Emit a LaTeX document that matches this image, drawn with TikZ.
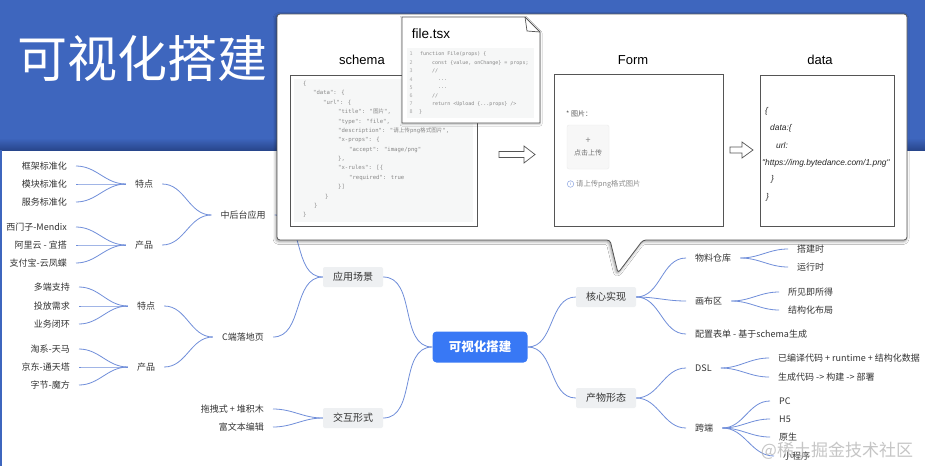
\documentclass[tikz,border=0pt]{standalone}
\usepackage{fontspec}
\setmainfont{Noto Sans CJK SC}
\newfontfamily\latf{Liberation Sans}
\newfontfamily\monof{DejaVu Sans Mono}
\newfontfamily\cjkf{Noto Sans CJK SC}
\newcommand\zh[1]{{\cjkf #1}}
\usetikzlibrary{shadows.blur}
\definecolor{band}{RGB}{62,102,190}
\definecolor{bandd}{RGB}{40,70,140}
\definecolor{lnk}{RGB}{112,142,218}
\definecolor{txt}{RGB}{51,51,51}
\definecolor{rootc}{RGB}{56,120,245}
\definecolor{greyb}{RGB}{238,240,242}
\definecolor{codebg}{RGB}{246,247,247}
\definecolor{codec}{RGB}{135,135,135}
\definecolor{frm}{RGB}{85,85,85}
\tikzset{
  lk/.style={draw=lnk, line width=0.8pt},
  lf/.style={font=\fontsize{9}{11}\selectfont, text=txt, inner xsep=9pt, inner ysep=1pt},
  gb/.style={fill=greyb, rounded corners=2pt, minimum width=60pt, minimum height=20pt, inner sep=0pt, font=\fontsize{10}{12}\selectfont, text=txt},
  rootbox/.style={fill=rootc, rounded corners=4pt, minimum width=95pt, minimum height=31pt, inner sep=0pt, font=\fontsize{12.5}{14}\selectfont\bfseries, text=white},
  panel/.style={draw=frm, line width=0.7pt, fill=white},
  plabel/.style={font=\latf\fontsize{13}{15}\selectfont, text=black, inner sep=0pt},
  sc/.style={font=\monof\fontsize{5.6}{6}\selectfont, text=codec, anchor=west, inner sep=0pt},
  fc/.style={font=\monof\fontsize{5}{6}\selectfont, text=codec, anchor=west, inner sep=0pt},
  fn/.style={font=\monof\fontsize{5}{6}\selectfont, text=codec!70, inner sep=0pt},
  dt/.style={font=\latf\itshape\fontsize{8.4}{10}\selectfont, text=black!85, anchor=west, inner sep=0pt},
  barrow/.style={draw=frm, line width=0.7pt, fill=white, line join=miter},
}
\begin{document}
\begin{tikzpicture}[x=1pt,y=-1pt]
\useasboundingbox (0,0) rectangle (925,466);
\fill[white] (0,0) rectangle (925,466);
% header band
\fill[band] (0,0) rectangle (925,138);
\shade[top color=band, bottom color=bandd] (0,138) rectangle (925,150);
\fill[band] (0,150) rectangle (2,466);
\node[font=\fontsize{50}{52}\selectfont, text=white, inner sep=0pt] (title) at (142,59) {可视化搭建};

% ---------- mind map ----------
\node[rootbox] (root) at (480,347) {可视化搭建};
\node[gb] (yy) at (353,277) {应用场景};
\node[gb] (jh) at (353,418) {交互形式};
\node[gb] (hx) at (606,297) {核心实现};
\node[gb] (cw) at (606,398) {产物形态};

\node[lf] (zh) at (243,215) {中后台应用};
\node[lf] (cd) at (243,337) {C端落地页};
\node[lf] (t1) at (144,184) {特点};
\node[lf] (p1) at (144,245) {产品};
\node[lf] (t2) at (146,306) {特点};
\node[lf] (p2) at (146,367) {产品};

\node[lf, anchor=east] (a1) at (76,166) {框架标准化};
\node[lf, anchor=east] (a2) at (76,184) {模块标准化};
\node[lf, anchor=east] (a3) at (76,202) {服务标准化};
\node[lf, anchor=east] (b1) at (76,227) {西门子-Mendix};
\node[lf, anchor=east] (b2) at (76,245) {阿里云 - 宜搭};
\node[lf, anchor=east] (b3) at (76,263) {支付宝-云凤蝶};
\node[lf, anchor=east] (c1) at (79,287) {多端支持};
\node[lf, anchor=east] (c2) at (79,306) {投放需求};
\node[lf, anchor=east] (c3) at (79,324) {业务闭环};
\node[lf, anchor=east] (d1) at (79,349) {淘系-天马};
\node[lf, anchor=east] (d2) at (79,367) {京东-通天塔};
\node[lf, anchor=east] (d3) at (79,385) {字节-魔方};
\node[lf, anchor=east] (e1) at (273,409) {拖拽式 + 堆积木};
\node[lf, anchor=east] (e2) at (273,427) {富文本编辑};

\node[lf, anchor=west] (wl) at (686,258) {物料仓库};
\node[lf, anchor=west] (f1) at (788,249) {搭建时};
\node[lf, anchor=west] (f2) at (788,267) {运行时};
\node[lf, anchor=west] (hb) at (686,301) {画布区};
\node[lf, anchor=west] (g1) at (779,292) {所见即所得};
\node[lf, anchor=west] (g2) at (779,310) {结构化布局};
\node[lf, anchor=west] (pz) at (686,334) {配置表单 - 基于schema生成};
\node[lf, anchor=west] (dsl) at (686,368) {DSL};
\node[lf, anchor=west] (h1) at (769,358) {已编译代码 + runtime + 结构化数据};
\node[lf, anchor=west] (h2) at (769,377) {生成代码 -> 构建 -> 部署};
\node[lf, anchor=west] (kd) at (686,428) {跨端};
\node[lf, anchor=west] (k1) at (770,401) {PC};
\node[lf, anchor=west] (k2) at (770,419) {H5};
\node[lf, anchor=west] (k3) at (770,437) {原生};
\node[lf, anchor=west] (k4) at (774,456) {小程序};

\foreach \s/\t in {a1/t1,a2/t1,a3/t1,b1/p1,b2/p1,b3/p1,c1/t2,c2/t2,c3/t2,d1/p2,d2/p2,d3/p2,t1/zh,p1/zh,t2/cd,p2/cd,zh/yy,cd/yy,e1/jh,e2/jh,yy/root,jh/root,root/hx,root/cw,hx/wl,hx/hb,hx/pz,wl/f1,wl/f2,hb/g1,hb/g2,cw/dsl,cw/kd,dsl/h1,dsl/h2,kd/k1,kd/k2,kd/k3,kd/k4}
  \draw[lk] (\s.east) to[out=0,in=180] (\t.west);

% ---------- callout ----------
\draw[draw=frm, line width=0.8pt, fill=white, rounded corners=3pt,
  blur shadow={shadow xshift=-1pt, shadow yshift=-1.5pt, shadow blur radius=3pt, shadow opacity=45}]
  (500,14) -- (907,14) -- (907,240) -- (643,240) -- (618,273) -- (610,240) -- (277,240) -- (277,14) -- cycle;

% schema panel
\node[plabel] (lsc) at (362,60) {schema};
\draw[panel] (290,75) rectangle (477,226);
\fill[codebg] (294,79) rectangle (473,222);
\node[sc] (s1) at (303,84) {\{};
\node[sc] (s2) at (313,93) {"data": \{};
\node[sc] (s3) at (323,103) {"url": \{};
\node[sc] (s4) at (338,112) {"title": "\zh{图片}",};
\node[sc] (s5) at (338,122) {"type": "file",};
\node[sc] (s6) at (338,131) {"description": "\zh{请上传}png\zh{格式图片}",};
\node[sc] (s7) at (338,140) {"x-props": \{};
\node[sc] (s8) at (349,150) {"accept": "image/png"};
\node[sc] (s9) at (338,159) {\},};
\node[sc] (s10) at (338,168) {"x-rules": [\{};
\node[sc] (s11) at (349,178) {"required": true};
\node[sc] (s12) at (338,187) {\}]};
\node[sc] (s13) at (325,197) {\}};
\node[sc] (s14) at (314,206) {\}};
\node[sc] (s15) at (303,215) {\}};

% file.tsx note
\draw[draw=frm, line width=0.8pt, fill=white, line join=round,
  blur shadow={shadow xshift=0pt, shadow yshift=-1pt, shadow blur radius=2pt, shadow opacity=25}]
  (402,17) -- (525,17) -- (540,32) -- (540,123) -- (402,123) -- cycle;
\draw[draw=frm, line width=0.7pt] (525,17) -- (527,31) -- (540,32);
\node[font=\latf\fontsize{13.5}{15}\selectfont, inner sep=0pt] (ft) at (431,34) {file.tsx};
\fill[codebg] (407,48) rectangle (534,118);
\node[fn] (n1) at (411,54) {1};
\node[fn] (n2) at (411,63) {2};
\node[fn] (n3) at (411,71) {3};
\node[fn] (n4) at (411,80) {4};
\node[fn] (n5) at (411,88) {5};
\node[fn] (n6) at (411,96) {6};
\node[fn] (n7) at (411,104) {7};
\node[fn] (n8) at (411,112) {8};
\node[fc] (q1) at (420,54) {function File(props) \{};
\node[fc] (q2) at (432,63) {const \{value, onChange\} = props;};
\node[fc] (q3) at (432,71) {//};
\node[fc] (q4) at (438,80) {...};
\node[fc] (q5) at (438,88) {...};
\node[fc] (q6) at (432,96) {//};
\node[fc] (q7) at (432,104) {return <Upload \{...props\} />};
\node[fc] (q8) at (419,112) {\}};

% arrow 1
\draw[barrow] (499,151.5) -- (524,151.5) -- (524,146) -- (535,154.5) -- (524,163) -- (524,157.5) -- (499,157.5) -- cycle;

% Form panel
\node[plabel] (lfo) at (633,60) {Form};
\draw[panel] (554,74) rectangle (723,226);
\node[font=\fontsize{7}{8}\selectfont, text=black!65, anchor=west, inner sep=0pt] (fl) at (566,114) {* 图片：};
\node[fill=black!3, draw=black!8, rounded corners=2pt, minimum width=42pt, minimum height=44pt, inner sep=0pt] (up) at (588,147) {};
\node[font=\fontsize{9}{9}\selectfont, text=black!50, inner sep=0pt] (plus) at (588,141) {+};
\node[font=\fontsize{7}{8}\selectfont, text=black!55, inner sep=0pt] (uptxt) at (588,153) {点击上传};
\node[circle, draw=lnk!80, line width=0.5pt, inner sep=0pt, minimum size=6.5pt] (ic) at (570.5,184) {};
\node[font=\latf\fontsize{4.5}{5}\selectfont, text=lnk, inner sep=0pt] (ici) at (570.5,184) {i};
\node[font=\fontsize{7.3}{8}\selectfont, text=black!45, anchor=west, inner sep=0pt] (hint) at (576,184) {请上传png格式图片};

% arrow 2
\draw[barrow] (730,147) -- (742,147) -- (742,142) -- (753,150) -- (742,158) -- (742,153) -- (730,153) -- cycle;

% data panel
\node[plabel] (lda) at (820,60) {data};
\draw[panel] (760,75) rectangle (894,226);
\node[dt] (r1) at (765,111) {\{};
\node[dt] (r2) at (770,128) {data:\{};
\node[dt] (r3) at (776,145) {url:};
\node[dt] (r4) at (762,163) {"https://img.bytedance.com/1.png"};
\node[dt] (r5) at (771,179) {\}};
\node[dt] (r6) at (766,197) {\}};

% watermark
\node[font=\fontsize{17}{18}\selectfont, text=black!30, opacity=0.75, inner sep=0pt] (wm) at (837,451) {@稀土掘金技术社区};
\end{tikzpicture}
\end{document}
